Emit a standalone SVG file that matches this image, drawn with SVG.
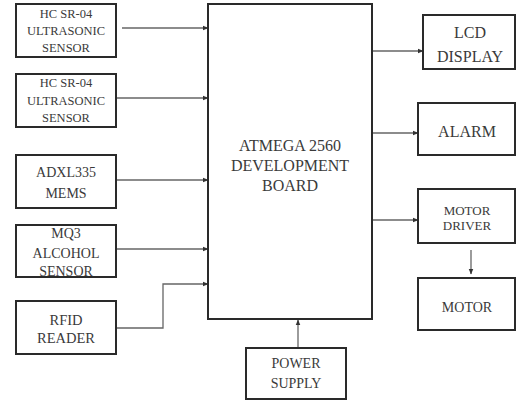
<svg xmlns="http://www.w3.org/2000/svg" width="517" height="402" viewBox="0 0 517 402">
<defs>
<style>
.box{fill:#fff;stroke:#2a2a2a;stroke-width:2}
.t{font-family:"Liberation Serif","Times New Roman",serif;fill:#3a3a3a;text-anchor:middle}
.c{fill:none;stroke:#666;stroke-width:1.3}
</style>
<marker id="ah" viewBox="0 0 10 10" refX="9" refY="5" markerWidth="6" markerHeight="6" orient="auto" markerUnits="userSpaceOnUse">
<path d="M0,1 L10,5 L0,9 z" fill="#333"/>
</marker>
</defs>
<rect width="517" height="402" fill="#fff"/>
<g id="connectors">
<path class="c" d="M122,28 H208" marker-end="url(#ah)"/>
<path class="c" d="M116,98 H208" marker-end="url(#ah)"/>
<path class="c" d="M116,180 H208" marker-end="url(#ah)"/>
<path class="c" d="M116,249 H208" marker-end="url(#ah)"/>
<path class="c" d="M116,328 H163 V284 H208" marker-end="url(#ah)"/>
<path class="c" d="M372,51 H423" marker-end="url(#ah)"/>
<path class="c" d="M372,133 H418" marker-end="url(#ah)"/>
<path class="c" d="M372,220 H418" marker-end="url(#ah)"/>
<path class="c" d="M471,250 V274" marker-end="url(#ah)"/>
<path class="c" d="M298,348 V320" marker-end="url(#ah)"/>
</g>
<g id="us1">
<rect class="box" x="16" y="4" width="100" height="53"/>
<text class="t" font-size="12.5"><tspan x="66" y="18">HC SR-04</tspan><tspan x="66" y="35">ULTRASONIC</tspan><tspan x="66" y="52">SENSOR</tspan></text>
</g>
<g id="us2">
<rect class="box" x="16" y="74" width="100" height="53"/>
<text class="t" font-size="12.5"><tspan x="66" y="87">HC SR-04</tspan><tspan x="66" y="105">ULTRASONIC</tspan><tspan x="66" y="122">SENSOR</tspan></text>
</g>
<g id="adxl">
<rect class="box" x="16" y="155" width="100" height="53"/>
<text class="t" font-size="14"><tspan x="66" y="177">ADXL335</tspan><tspan x="66" y="198">MEMS</tspan></text>
</g>
<g id="mq3">
<rect class="box" x="16" y="225" width="100" height="52"/>
<text class="t" font-size="14"><tspan x="66" y="238">MQ3</tspan><tspan x="66" y="258">ALCOHOL</tspan><tspan x="66" y="276">SENSOR</tspan></text>
</g>
<g id="rfid">
<rect class="box" x="16" y="301" width="100" height="53"/>
<text class="t" font-size="14.5"><tspan x="66" y="325">RFID</tspan><tspan x="66" y="343">READER</tspan></text>
</g>
<g id="board">
<rect class="box" x="208" y="4" width="164" height="315"/>
<text class="t" font-size="16"><tspan x="290" y="151">ATMEGA 2560</tspan><tspan x="290" y="171">DEVELOPMENT</tspan><tspan x="290" y="191">BOARD</tspan></text>
</g>
<g id="lcd">
<rect class="box" x="423" y="15" width="92" height="54"/>
<text class="t" font-size="16"><tspan x="470" y="38">LCD</tspan><tspan x="470" y="62">DISPLAY</tspan></text>
</g>
<g id="alarm">
<rect class="box" x="418" y="103" width="97" height="52"/>
<text class="t" font-size="16"><tspan x="467" y="137">ALARM</tspan></text>
</g>
<g id="driver">
<rect class="box" x="418" y="189" width="97" height="54"/>
<text class="t" font-size="13"><tspan x="467" y="215">MOTOR</tspan><tspan x="467" y="230">DRIVER</tspan></text>
</g>
<g id="motor">
<rect class="box" x="418" y="278" width="97" height="52"/>
<text class="t" font-size="14"><tspan x="467" y="312">MOTOR</tspan></text>
</g>
<g id="power">
<rect class="box" x="246" y="348" width="100" height="51"/>
<text class="t" font-size="14"><tspan x="296" y="368">POWER</tspan><tspan x="296" y="388">SUPPLY</tspan></text>
</g>
</svg>
